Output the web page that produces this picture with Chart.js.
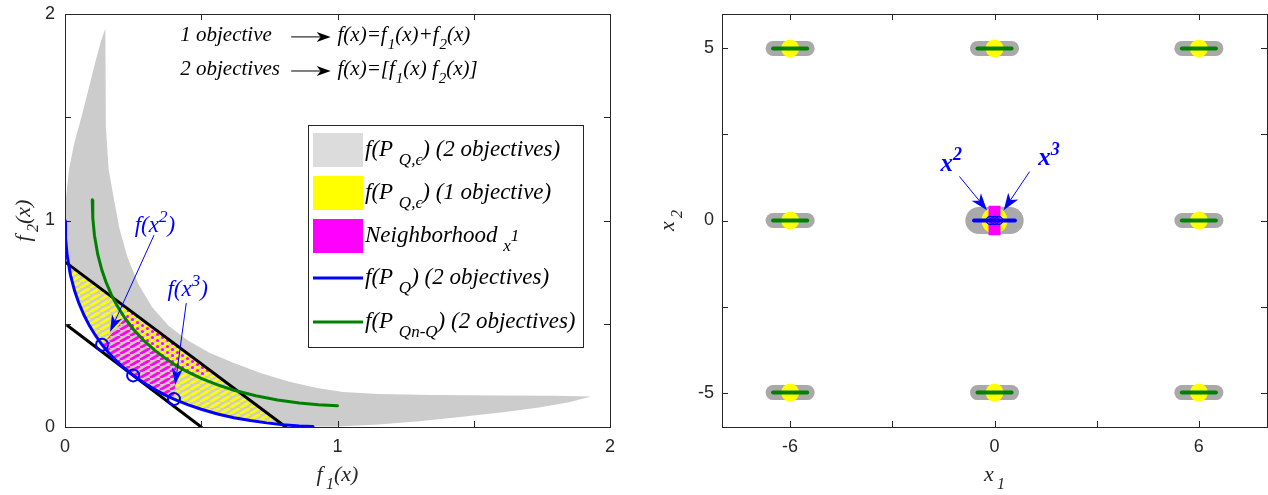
<!DOCTYPE html>
<html>
<head>
<meta charset="utf-8">
<script src="https://cdn.jsdelivr.net/npm/chart.js@4.4.0/dist/chart.umd.min.js"></script>
<style>
  html, body { margin: 0; padding: 0; background: #fff; }
  #wrap { position: relative; width: 1268px; height: 495px; }
  #left { position: absolute; left: 0; top: 0; }
  #right { position: absolute; left: 630px; top: 0; }
</style>
</head>
<body>
<div id="wrap">
  <canvas id="left" width="625" height="495"></canvas>
  <canvas id="right" width="638" height="495"></canvas>
</div>
<script>
var SERIF = '"Liberation Serif", "DejaVu Serif", serif';
var SANS = '"Liberation Sans", Arial, sans-serif';
var AXIS = '#262626';

// ---- objective space ----
// Pareto front of Q
var frontQ = [[0,1.0],[0.002,0.913],[0.008,0.829],[0.02,0.737],[0.035,0.661],[0.05,0.603],[0.07,0.541],
  [0.09,0.49],[0.11,0.447],[0.136,0.398],[0.16,0.36],[0.19,0.318],[0.22,0.282],[0.25,0.25],[0.29,0.213],
  [0.33,0.181],[0.37,0.153],[0.40,0.135],[0.45,0.108],[0.5,0.086],[0.56,0.063],[0.62,0.045],[0.68,0.031],
  [0.74,0.020],[0.8,0.011],[0.86,0.005],[0.91,0.002]];
// front of Qn-Q
var frontQnQ = [[0.1,1.1],[0.102,1.013],[0.108,0.929],[0.12,0.837],[0.135,0.761],[0.15,0.703],[0.17,0.641],
  [0.19,0.59],[0.22,0.527],[0.25,0.475],[0.29,0.418],[0.33,0.371],[0.37,0.331],[0.41,0.296],[0.45,0.267],
  [0.5,0.235],[0.56,0.204],[0.62,0.178],[0.7,0.151],[0.78,0.131],[0.86,0.116],[0.93,0.108],[1.0,0.103]];
// edges of the epsilon set (2 objectives)
var epsSpike = [[0,1.0],[0.003,1.10],[0.015,1.25],[0.035,1.38],[0.06,1.50],[0.085,1.63],[0.11,1.76],[0.13,1.86],[0.148,1.93]];
var epsOuter = [[0.15,1.45],[0.16,1.25],[0.18,1.10],[0.20,0.96],[0.23,0.82],[0.27,0.69],[0.32,0.58],[0.38,0.49],
  [0.45,0.42],[0.53,0.36],[0.62,0.31],[0.72,0.26],[0.82,0.22],[0.92,0.19],[1.02,0.17],[1.15,0.16],[1.35,0.155],
  [1.6,0.153],[1.8,0.151],[1.93,0.148]];
var epsTail = [[1.85,0.12],[1.74,0.095],[1.6,0.07],[1.45,0.048],[1.3,0.028],[1.15,0.012],[1.0,0.003],[0.91,0.002]];
// f1 + f2 = const lines
var sumHigh = [[0.005,0.795],[0.81,0]];
var sumLow = [[0.01,0.49],[0.5,0]];
var picks = [[0.136,0.398],[0.25,0.25],[0.40,0.135]];
// neighbourhood corners
var hoodLowEnds = [[0.136,0.398],[0.40,0.135],[0.41,0.296],[0.22,0.527]];
var hoodHighEnds = [[0.22,0.527],[0.5,0.235],[0.53,0.27],[0.23,0.57]];

// ---- decision space ----
var pillEnds = [[-6.5,-5.5,5],[-0.5,0.5,5],[5.5,6.5,5],[-6.5,-5.5,0],[5.5,6.5,0],[-6.5,-5.5,-5],[-0.5,0.5,-5],[5.5,6.5,-5]];
var outerSites = [[-6,5],[0,5],[6,5],[-6,0],[6,0],[-6,-5],[0,-5],[6,-5]];
var centreGray = [[-0.46,0],[0.46,0]];
var centreBlue = [[-0.6,0],[0.6,0]];
var centreMagenta = [[0,0.43],[0,-0.43]];
var centreRings = [[-0.12,0],[0,0],[0.12,0]];

function pts(a) { return a.map(function (p) { return {x: p[0], y: p[1]}; }); }
function between(a, lo, hi) { return a.filter(function (p) { return p[0] > lo && p[0] < hi; }); }

var grayRegion = epsSpike.concat(epsOuter, epsTail, frontQ.slice().reverse());
var yellowBand = [[0.011, 0.789]].concat(between(frontQ, 0.011, 0.79), [[0.79, 0.01]]);
var hoodLow = [hoodLowEnds[0]].concat(between(frontQ, 0.136, 0.40), [hoodLowEnds[1], hoodLowEnds[2]],
  between(frontQnQ, 0.22, 0.41).reverse(), [hoodLowEnds[3]]);
var hoodHigh = [hoodHighEnds[0]].concat(between(frontQnQ, 0.22, 0.5), hoodHighEnds.slice(1));

function stripes(color, w) {
  var c = document.createElement('canvas');
  c.width = 10; c.height = 6;
  var g = c.getContext('2d');
  g.strokeStyle = color; g.lineWidth = w;
  [-10, 0, 10].forEach(function (dx) {
    g.beginPath(); g.moveTo(dx, 6); g.lineTo(dx + 10, 0); g.stroke();
  });
  return g.createPattern(c, 'repeat');
}
function dotted() {
  var c = document.createElement('canvas');
  c.width = 10; c.height = 6;
  var g = c.getContext('2d');
  g.strokeStyle = '#ffff00'; g.lineWidth = 2;
  [-10, 0, 10].forEach(function (dx) {
    g.beginPath(); g.moveTo(dx, 6); g.lineTo(dx + 10, 0); g.stroke();
  });
  g.fillStyle = '#ff00ff';
  [[2.5, 1.5], [7.5, 4.5]].forEach(function (p) {
    g.beginPath(); g.arc(p[0], p[1], 1.5, 0, Math.PI * 2); g.fill();
  });
  return g.createPattern(c, 'repeat');
}

// text with sub/superscripts: kind 0 normal, 1 sub, 2 sup, 3 sup on a sub
function rich(ctx, parts, x, y, size, align, bold, subGap) {
  var b = bold ? 'bold ' : '';
  var small = Math.round(size * 0.72);
  var sg = subGap === undefined ? 0.15 : subGap;
  var runs = parts.map(function (p) {
    ctx.font = 'italic ' + b + (p[1] ? small : size) + 'px ' + SERIF;
    return {t: p[0], k: p[1], w: ctx.measureText(p[0]).width, gap: p[1] === 1 ? size * sg : 0};
  });
  var total = runs.reduce(function (s, r) { return s + r.w + r.gap; }, 0);
  var cx = align === 'center' ? x - total / 2 : (align === 'right' ? x - total : x);
  ctx.textBaseline = 'alphabetic';
  ctx.textAlign = 'left';
  runs.forEach(function (r) {
    ctx.font = 'italic ' + b + (r.k ? small : size) + 'px ' + SERIF;
    var dy = r.k === 1 ? size * 0.38 : (r.k === 2 ? -size * 0.42 : (r.k === 3 ? -size * 0.05 : 0));
    cx += r.gap;
    ctx.fillText(r.t, cx, y + dy);
    cx += r.w;
  });
}

function arrow(ctx, x0, y0, x1, y1, color, lw, len, wid) {
  var a = Math.atan2(y1 - y0, x1 - x0);
  ctx.save();
  ctx.strokeStyle = color; ctx.fillStyle = color; ctx.lineWidth = lw;
  ctx.beginPath(); ctx.moveTo(x0, y0);
  ctx.lineTo(x1 - Math.cos(a) * len * 0.7, y1 - Math.sin(a) * len * 0.7);
  ctx.stroke();
  ctx.translate(x1, y1); ctx.rotate(a);
  ctx.beginPath(); ctx.moveTo(0, 0); ctx.lineTo(-len, -wid / 2); ctx.lineTo(-len * 0.72, 0); ctx.lineTo(-len, wid / 2);
  ctx.closePath(); ctx.fill();
  ctx.restore();
}

// box, inward ticks on all four sides
var framePlugin = {
  id: 'frame',
  afterDatasetsDraw: function (chart) {
    var ctx = chart.ctx, a = chart.chartArea, sx = chart.scales.x, sy = chart.scales.y;
    ctx.save();
    ctx.strokeStyle = AXIS; ctx.lineWidth = 1;
    ctx.strokeRect(a.left + 0.5, a.top + 0.5, a.right - a.left, a.bottom - a.top);
    ctx.beginPath();
    sx.ticks.forEach(function (t) {
      var p = Math.round(sx.getPixelForValue(t.value)) + 0.5;
      ctx.moveTo(p, a.bottom); ctx.lineTo(p, a.bottom - 6);
      ctx.moveTo(p, a.top); ctx.lineTo(p, a.top + 6);
    });
    sy.ticks.forEach(function (t) {
      var p = Math.round(sy.getPixelForValue(t.value)) + 0.5;
      ctx.moveTo(a.left, p); ctx.lineTo(a.left + 6, p);
      ctx.moveTo(a.right, p); ctx.lineTo(a.right - 6, p);
    });
    ctx.stroke();
    ctx.restore();
  }
};

function axisOpts(min, max, step, labelled, fitW, fitH, pad) {
  return {
    type: 'linear', min: min, max: max,
    grid: {display: false, drawTicks: false},
    border: {display: false},
    ticks: {
      stepSize: step, includeBounds: false, autoSkip: false, maxRotation: 0, padding: pad,
      color: AXIS, font: {family: SANS, size: 18},
      callback: function (v) { return labelled.indexOf(v) >= 0 ? String(v) : ''; }
    },
    afterFit: function (s) {
      if (fitW) s.width = fitW;
      if (fitH) s.height = fitH;
      s.paddingTop = 0; s.paddingBottom = 0; s.paddingLeft = 0; s.paddingRight = 0;
    }
  };
}

function lineSet(data, color, width, order, extra) {
  var d = {data: pts(data), showLine: true, borderColor: color, borderWidth: width, pointRadius: 0,
    pointHoverRadius: 0, fill: false, order: order, borderCapStyle: 'round'};
  for (var k in extra) d[k] = extra[k];
  return d;
}
function shapeSet(data, bg, order) {
  return {data: pts(data), showLine: true, borderWidth: 0, borderColor: 'rgba(0,0,0,0)', pointRadius: 0,
    pointHoverRadius: 0, fill: 'shape', backgroundColor: bg, order: order};
}

// objective-space annotations and legend
var leftNotes = {
  id: 'leftNotes',
  afterDraw: function (chart) {
    var ctx = chart.ctx, sx = chart.scales.x, sy = chart.scales.y;
    function X(v) { return sx.getPixelForValue(v); }
    function Y(v) { return sy.getPixelForValue(v); }
    ctx.save();
    ctx.fillStyle = '#000';
    rich(ctx, [['1 objective', 0]], X(0.423), Y(1.87), 21, 'left');
    rich(ctx, [['2 objectives', 0]], X(0.423), Y(1.705), 21, 'left');
    arrow(ctx, X(0.83), Y(1.889), X(0.975), Y(1.889), '#000', 1, 14, 10);
    arrow(ctx, X(0.83), Y(1.724), X(0.975), Y(1.724), '#000', 1, 14, 10);
    ctx.fillStyle = '#000';
    rich(ctx, [['f(x)=f', 0], ['1', 1], ['(x)+f', 0], ['2', 1], ['(x)', 0]], X(1.0), Y(1.87), 21, 'left', false, 0.05);
    rich(ctx, [['f(x)=[f', 0], ['1', 1], ['(x) f', 0], ['2', 1], ['(x)]', 0]], X(1.0), Y(1.705), 21, 'left', false, 0.05);

    // pointers to f(x^2), f(x^3)
    arrow(ctx, X(0.327), Y(0.93), X(0.165), Y(0.46), '#0000ff', 1, 17, 11);
    arrow(ctx, X(0.445), Y(0.60), X(0.404), Y(0.203), '#0000ff', 1, 17, 11);
    ctx.fillStyle = '#0000ff';
    rich(ctx, [['f(x', 0], ['2', 2], [')', 0]], X(0.33), Y(0.944), 23, 'center');
    rich(ctx, [['f(x', 0], ['3', 2], [')', 0]], X(0.45), Y(0.635), 23, 'center');

    // legend
    var L = 308, T = 125, W = 275, H = 222;
    ctx.fillStyle = '#fff';
    ctx.fillRect(L, T, W, H);
    ctx.strokeStyle = AXIS; ctx.lineWidth = 1;
    ctx.strokeRect(L + 0.5, T + 0.5, W, H);
    var rows = [
      {c: 150, swatch: '#dcdcdc', text: [['f(P', 0], ['Q,\u03f5', 1], [') (2 objectives)', 0]]},
      {c: 193, swatch: '#ffff00', text: [['f(P', 0], ['Q,\u03f5', 1], [') (1 objective)', 0]]},
      {c: 236, swatch: '#ff00ff', text: [['Neighborhood', 0], ['x', 1], ['1', 3]]},
      {c: 278, line: '#0000ff', text: [['f(P', 0], ['Q', 1], [') (2 objectives)', 0]]},
      {c: 322, line: '#008000', text: [['f(P', 0], ['Qn-Q', 1], [') (2 objectives)', 0]]}
    ];
    rows.forEach(function (r) {
      if (r.swatch) {
        ctx.fillStyle = r.swatch;
        ctx.fillRect(L + 5, r.c - 17, 50, 34);
      } else {
        ctx.strokeStyle = r.line; ctx.lineWidth = 3;
        ctx.beginPath(); ctx.moveTo(L + 5, r.c); ctx.lineTo(L + 55, r.c); ctx.stroke();
      }
      ctx.fillStyle = '#000';
      rich(ctx, r.text, L + 57, r.c + 6, 23, 'left', false, 0.25);
    });

    // axis titles
    ctx.fillStyle = AXIS;
    var a = chart.chartArea;
    rich(ctx, [['f', 0], ['1', 1], ['(x)', 0]], (a.left + a.right) / 2, 481, 22, 'center');
    ctx.translate(30, (a.top + a.bottom) / 2);
    ctx.rotate(-Math.PI / 2);
    rich(ctx, [['f', 0], ['2', 1], ['(x)', 0]], 0, 0, 22, 'center');
    ctx.restore();
  }
};

var left = new Chart(document.getElementById('left'), {
  type: 'scatter',
  data: {
    datasets: [
      shapeSet(grayRegion, '#cccccc', 10),
      shapeSet(yellowBand, stripes('#ffff00', 2.8), 9),
      shapeSet(hoodLow, stripes('#ff00ff', 2.8), 8),
      shapeSet(hoodHigh, dotted(), 7),
      lineSet(sumHigh, '#000', 3, 6),
      lineSet(sumLow, '#000', 3, 6),
      lineSet(frontQnQ, '#008000', 3, 5),
      lineSet(frontQ, '#0000ff', 3, 4),
      {data: pts(picks), showLine: false, pointRadius: 6, pointHoverRadius: 6, borderColor: '#0000ff',
        borderWidth: 2, backgroundColor: 'rgba(0,0,0,0)', order: 3}
    ]
  },
  options: {
    responsive: false, animation: false, events: [],
    layout: {autoPadding: false, padding: {left: 0, right: 15, top: 14, bottom: 0}},
    plugins: {legend: {display: false}, tooltip: {enabled: false}},
    scales: {
      x: axisOpts(0, 2, 0.5, [0, 1, 2], 0, 68, 9),
      y: axisOpts(0, 2, 0.5, [0, 1, 2], 65, 0, 10)
    }
  },
  plugins: [framePlugin, leftNotes]
});

// decision-space annotations
var rightNotes = {
  id: 'rightNotes',
  afterDraw: function (chart) {
    var ctx = chart.ctx, sx = chart.scales.x, sy = chart.scales.y, a = chart.chartArea;
    function X(v) { return sx.getPixelForValue(v); }
    function Y(v) { return sy.getPixelForValue(v); }
    ctx.save();
    arrow(ctx, X(-1.03), Y(1.28), X(-0.22), Y(0.3), '#0000ff', 1, 17, 12);
    arrow(ctx, X(1.03), Y(1.42), X(0.27), Y(0.3), '#0000ff', 1, 17, 12);
    ctx.fillStyle = '#0000ff';
    rich(ctx, [['x', 0], ['2', 2]], X(-1.27), Y(1.45), 25, 'center', true);
    rich(ctx, [['x', 0], ['3', 2]], X(1.6), Y(1.6), 25, 'center', true);

    ctx.fillStyle = AXIS;
    rich(ctx, [['x', 0], ['1', 1]], (a.left + a.right) / 2, 481, 22, 'center');
    ctx.translate(674 - 630, (a.top + a.bottom) / 2);
    ctx.rotate(-Math.PI / 2);
    rich(ctx, [['x', 0], ['2', 1]], 0, 0, 22, 'center');
    ctx.restore();
  }
};

var rightSets = [];
pillEnds.forEach(function (p) {
  rightSets.push(lineSet([[p[0], p[2]], [p[1], p[2]]], '#a9a9a9', 15, 20));
});
rightSets.push(lineSet(centreGray, '#a9a9a9', 27, 20));
rightSets.push({data: pts(outerSites), showLine: false, pointRadius: 9, pointHoverRadius: 9, borderWidth: 0,
  backgroundColor: '#ffff00', order: 15});
rightSets.push({data: pts([[0, 0]]), showLine: false, pointRadius: 13, pointHoverRadius: 13, borderWidth: 0,
  backgroundColor: '#ffff00', order: 15});
pillEnds.forEach(function (p) {
  rightSets.push(lineSet([[p[0], p[2]], [p[1], p[2]]], '#008000', 4, 12));
});
rightSets.push(lineSet(centreMagenta, '#ff00ff', 12, 11, {borderCapStyle: 'butt'}));
rightSets.push(lineSet(centreBlue, '#0000ff', 4, 10));
rightSets.push({data: pts(centreRings), showLine: false, pointRadius: 4, pointHoverRadius: 4, borderWidth: 1.5,
  borderColor: '#0000ff', backgroundColor: 'rgba(0,0,0,0)', order: 9});

var right = new Chart(document.getElementById('right'), {
  type: 'scatter',
  data: {datasets: rightSets},
  options: {
    responsive: false, animation: false, events: [],
    layout: {autoPadding: false, padding: {left: 0, right: 1, top: 14, bottom: 0}},
    plugins: {legend: {display: false}, tooltip: {enabled: false}},
    scales: {
      x: axisOpts(-8, 8, 3, [-6, 0, 6], 0, 68, 9),
      y: axisOpts(-6, 6, 2.5, [-5, 0, 5], 92, 0, 8)
    }
  },
  plugins: [framePlugin, rightNotes]
});
</script>
</body>
</html>
